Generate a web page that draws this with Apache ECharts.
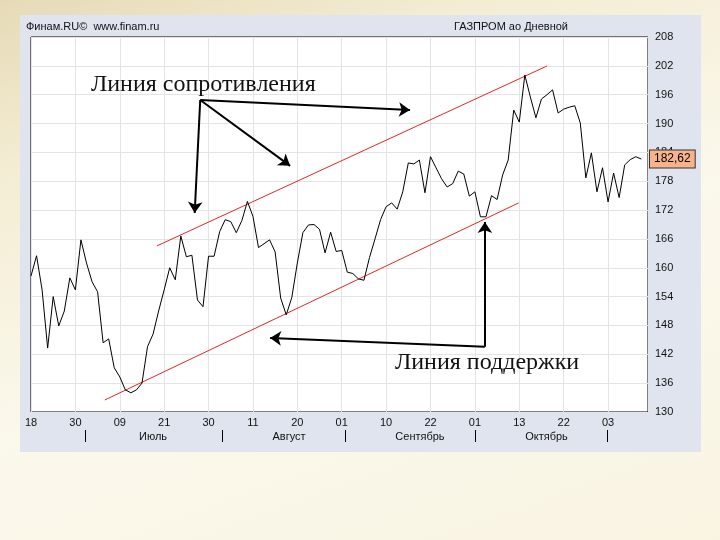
<!DOCTYPE html>
<html><head><meta charset="utf-8">
<script src="https://cdn.jsdelivr.net/npm/echarts@6/dist/echarts.min.js"></script>
<style>
html,body{margin:0;padding:0;width:720px;height:540px;overflow:hidden;
background: linear-gradient(160deg,#e6dab6 0%,#f4edd4 22%,#fbf8ec 55%,#f9f4e2 100%);}
#panel{position:absolute;left:20px;top:15px;width:681px;height:437px;background:#dfe4ef;}
#c{position:absolute;left:0;top:0;width:720px;height:540px;}
</style></head><body><div id="panel"></div><div id="c"></div>
<script>
const dateLabels = ['18','30','09','21','30','11','20','01','10','22','01','13','22','03'];
const monthNames = ['Июль','Август','Сентябрь','Октябрь'];
const monthCenters = [22, 46.5, 70.1, 92.9];
const monthSeparators = [9.7, 34.4, 56.7, 80.0, 103.9];
const prices = [
 158.3,162.5,155.4,143.3,154.0,147.9,151.0,157.9,155.4,165.8,
 161.0,157.1,155.0,144.4,145.2,139.2,137.3,134.6,134.0,134.6,
 136.0,143.6,146.2,151.0,155.4,160.0,157.5,166.6,162.3,162.6,
 153.3,151.9,162.4,162.4,167.5,170.0,169.6,167.3,169.8,173.8,
 170.7,164.2,165.0,165.8,163.3,153.7,150.2,153.8,161.0,167.3,
 168.9,169.0,168.0,163.1,167.4,163.4,163.6,159.1,158.8,157.7,
 157.4,162.1,166.0,170.0,172.7,173.5,172.2,175.8,181.8,181.6,
 182.4,175.6,183.1,180.8,178.5,176.8,177.5,180.1,179.5,174.9,
 175.8,170.6,170.6,175.0,174.2,179.3,182.4,192.8,190.3,200.1,
 195.5,191.2,195.1,196.0,197.0,192.2,193.0,193.4,193.7,190.1,
 178.7,183.9,175.8,180.8,173.7,179.7,174.6,181.4,182.5,183.1,
 182.62
];
const lastPrice = 182.62;
const resistanceLine = [[22.7,164.55],[93.0,201.97]];
const supportLine = [[13.3,132.5],[87.9,173.5]];
const resistanceArrows = [
  [[30.5,194.9],[29.5,171.4]],
  [[30.5,194.9],[46.7,181.2]],
  [[30.5,194.9],[68.3,192.8]]
];
const supportArrows = [
  [[81.8,143.55],[81.8,169.5]],
  [[81.8,143.55],[43.1,145.4]]
];
const resistanceText = 'Линия сопротивления';
const supportText = 'Линия поддержки';
const headerLeft = 'Финам.RU©  www.finam.ru';
const headerRight = 'ГАЗПРОМ ао Дневной';

const chart = echarts.init(document.getElementById('c'), null, {renderer:'canvas'});
const sans = 'Liberation Sans, Arial, sans-serif';
const serif = 'Liberation Serif, Times New Roman, serif';
const xMin = 0, xMax = 111.2;

chart.setOption({
  animation:false,
  backgroundColor:'transparent',
  grid:{left:31, top:37, right:72, bottom:128, show:true, backgroundColor:'#ffffff', borderColor:'#000', borderWidth:1},
  xAxis:[{
    type:'value', min:xMin, max:xMax, interval:8,
    axisLine:{show:false}, axisTick:{show:false},
    splitLine:{show:true, lineStyle:{color:'#e4e4e4', width:1}},
    axisLabel:{show:true, showMaxLabel:false, margin:5, color:'#111', fontFamily:sans, fontSize:11,
      formatter:v=>{const k=Math.round(v/8); return (Math.abs(v-8*k)<1e-6 && dateLabels[k]!==undefined)?dateLabels[k]:'';}}
  },{
    type:'value', min:xMin, max:xMax, position:'bottom', offset:18,
    axisLine:{show:false},
    splitLine:{show:false},
    axisTick:{show:true, customValues:monthSeparators, length:12, lineStyle:{color:'#000', width:1}},
    axisLabel:{show:true, customValues:monthCenters, margin:1, color:'#111', fontFamily:sans, fontSize:11,
      formatter:v=>{const k=monthCenters.indexOf(v); return k>=0?monthNames[k]:'';}}
  }],
  yAxis:[{
    type:'value', position:'right', min:130, max:208, interval:6,
    axisLine:{show:false}, axisTick:{show:false},
    splitLine:{show:true, lineStyle:{color:'#e4e4e4', width:1}},
    axisLabel:{margin:7, color:'#111', fontFamily:sans, fontSize:11}
  },{
    type:'value', position:'right', min:130, max:208, z:10,
    axisLine:{show:false}, splitLine:{show:false}, axisTick:{show:false},
    axisLabel:{customValues:[lastPrice], margin:2, color:'#000', fontFamily:sans, fontSize:12,
      backgroundColor:'#f8b38b', borderColor:'#333', borderWidth:1, padding:[3,4,2,4],
      formatter:v=>v.toFixed(2).replace('.',',')}
  }],
  graphic:[
    {type:'text', left:26, top:21, style:{text:headerLeft, font:'11px '+sans, fill:'#111'}},
    {type:'text', left:454, top:21, style:{text:headerRight, font:'11px '+sans, fill:'#111'}},
    {type:'text', left:91, top:73, z:100, style:{text:resistanceText, font:'24px '+serif, fill:'#111'}},
    {type:'text', left:395, top:351, z:100, style:{text:supportText, font:'24px '+serif, fill:'#111'}}
  ],
  series:[
    {type:'line', name:'price', data:prices.map((v,i)=>[i,v]), showSymbol:false, symbol:'none',
     lineStyle:{color:'#000', width:1}, z:5},
    {type:'line', name:'resistance', data:resistanceLine, symbol:'none', lineStyle:{color:'#e0282a', width:1}, z:4},
    {type:'line', name:'support', data:supportLine, symbol:'none', lineStyle:{color:'#e0282a', width:1}, z:4},
    {type:'lines', coordinateSystem:'cartesian2d', data:resistanceArrows.concat(supportArrows).map(a=>({coords:a})),
     symbol:['none','arrow'], symbolSize:[1,11], lineStyle:{color:'#000', width:2, opacity:1}, z:6}
  ]
});
</script></body></html>
